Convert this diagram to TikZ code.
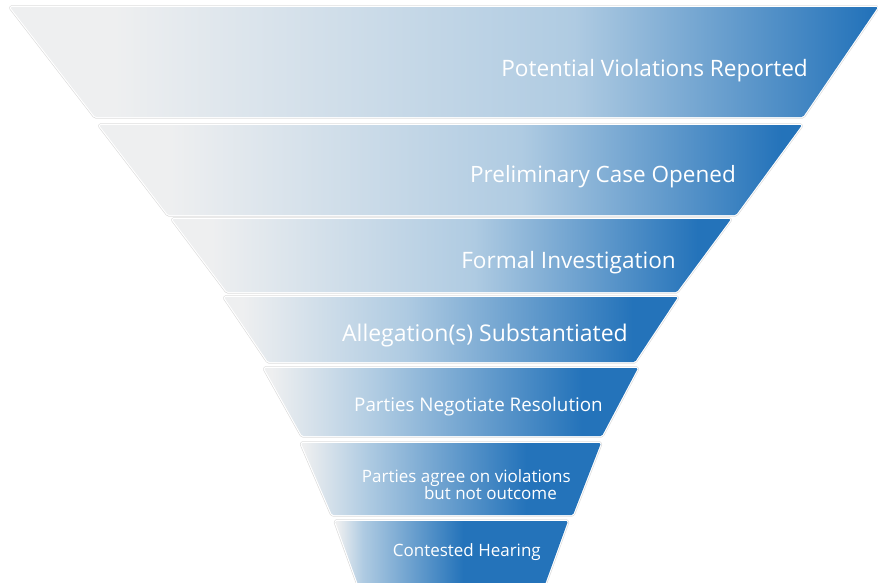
\documentclass[tikz,border=0pt]{standalone}
\usepackage{fontspec}
\setmainfont{Open Sans}
\definecolor{fgray}{HTML}{EEEFF0}
\definecolor{flight}{HTML}{AFCBE2}
\definecolor{fblue}{HTML}{2473BA}
\newcommand\bandshade[4]{\pgfdeclarehorizontalshading{#1}{100bp}{color(0bp)=(fgray); color(25bp)=(fgray); color(#2bp)=(fgray); color(#3bp)=(flight); color(#4bp)=(fblue); color(75bp)=(fblue); color(100bp)=(fblue)}}
\bandshade{bandA}{31}{57.5}{74.5}
\bandshade{bandB}{30}{55}{73.5}
\bandshade{bandC}{28.5}{52}{72}
\bandshade{bandD}{27}{45}{70}
\bandshade{bandE}{26}{40}{67.5}
\bandshade{bandF}{25.5}{36}{62.5}
\bandshade{bandG}{25.5}{31}{52.5}
\tikzset{
  band/.style={rounded corners=1.5pt},
  bandedge/.style={draw=gray!30, line width=3.4pt, rounded corners=1.5pt, line join=round},
  bandwhite/.style={draw=white, line width=2.2pt, rounded corners=1.5pt, line join=round},
  lbl/.style={text=white, inner sep=0pt, anchor=base east},
}
\newcommand\funnelband[5]{%
  \draw[bandedge] #1 -- #2 -- #3 -- #4 -- cycle;
  \draw[bandwhite] #1 -- #2 -- #3 -- #4 -- cycle;
  \shade[band, shading=#5] #1 -- #2 -- #3 -- #4 -- cycle;}
\begin{document}
\begin{tikzpicture}[x=1pt,y=-1pt]
\useasboundingbox (0,0) rectangle (878,582);
\clip (0,0) rectangle (878,582);
\funnelband{(10,7)}{(878,7)}{(803,117)}{(95,117)}{bandA}
\funnelband{(99,125)}{(802,125)}{(736,215)}{(168,215)}{bandB}
\funnelband{(172,219)}{(731,219)}{(677,292)}{(227,292)}{bandC}
\funnelband{(224,297)}{(678,297)}{(635,362)}{(268,362)}{bandD}
\funnelband{(264,368)}{(638,368)}{(602,436)}{(302,436)}{bandE}
\funnelband{(301,443)}{(601,443)}{(573,515)}{(332,515)}{bandF}
\funnelband{(335,521)}{(568,521)}{(543,590)}{(360,590)}{bandG}
\node[lbl, font=\fontsize{22.6}{26}\selectfont] (t1) at (808,76) {Potential Violations Reported};
\node[lbl, font=\fontsize{22.5}{26}\selectfont] (t2) at (736,182) {Preliminary Case Opened};
\node[lbl, font=\fontsize{22.6}{26}\selectfont] (t3) at (676,268) {Formal Investigation};
\node[lbl, font=\fontsize{23}{26}\selectfont] (t4) at (628,341) {Allegation(s) Substantiated};
\node[lbl, font=\fontsize{18.8}{22}\selectfont] (t5) at (603,411) {Parties Negotiate Resolution};
\node[lbl, font=\fontsize{17}{20}\selectfont] (t6a) at (571,482) {Parties agree on violations};
\node[lbl, font=\fontsize{17}{20}\selectfont] (t6b) at (557,499) {but not outcome};
\node[lbl, font=\fontsize{17}{20}\selectfont] (t7) at (541,556) {Contested Hearing};
\end{tikzpicture}
\end{document}
